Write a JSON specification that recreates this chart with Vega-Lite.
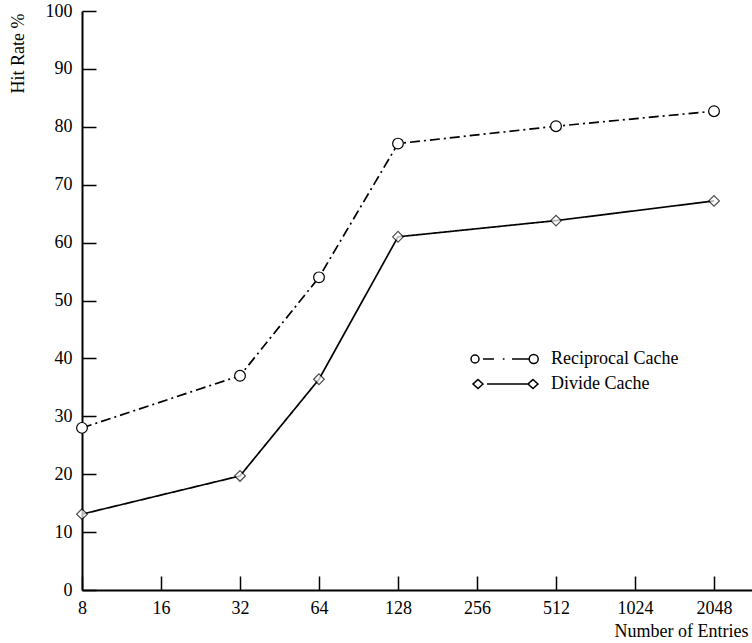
{
  "$schema": "https://vega.github.io/schema/vega-lite/v6.json",
  "width": 670,
  "height": 579,
  "autosize": {"type": "none"},
  "padding": {"left": 82, "top": 11, "right": 0, "bottom": 53},
  "background": "white",
  "config": {
    "font": "Liberation Serif",
    "view": {"stroke": null},
    "axis": {
      "grid": false,
      "domainColor": "black",
      "domainWidth": 2,
      "tickColor": "black",
      "tickWidth": 1.5,
      "tickSize": -14,
      "labelColor": "black",
      "labelFontSize": 18,
      "labelFont": "Liberation Serif",
      "titleFont": "Liberation Serif",
      "titleFontSize": 18,
      "titleFontWeight": "normal",
      "titleColor": "black",
      "labelFlush": false,
      "labelOverlap": false,
      "zindex": 1
    },
    "legend": {
      "title": null,
      "padding": 0,
      "symbolSize": 400,
      "symbolOffset": 25,
      "labelOffset": 36,
      "labelFontSize": 18,
      "labelFont": "Liberation Serif",
      "labelColor": "black",
      "rowPadding": 5
    }
  },
  "data": {
    "values": [
      {"series": "Reciprocal Cache", "entries": 8, "hit": 28},
      {"series": "Reciprocal Cache", "entries": 32, "hit": 37},
      {"series": "Reciprocal Cache", "entries": 64, "hit": 54},
      {"series": "Reciprocal Cache", "entries": 128, "hit": 77.1},
      {"series": "Reciprocal Cache", "entries": 512, "hit": 80.1},
      {"series": "Reciprocal Cache", "entries": 2048, "hit": 82.7},
      {"series": "Divide Cache", "entries": 8, "hit": 13.1},
      {"series": "Divide Cache", "entries": 32, "hit": 19.7},
      {"series": "Divide Cache", "entries": 64, "hit": 36.4},
      {"series": "Divide Cache", "entries": 128, "hit": 61},
      {"series": "Divide Cache", "entries": 512, "hit": 63.8},
      {"series": "Divide Cache", "entries": 2048, "hit": 67.2}
    ]
  },
  "encoding": {
    "x": {
      "field": "entries",
      "type": "quantitative",
      "scale": {"type": "log", "base": 2, "domain": [8, 2858], "nice": false},
      "axis": {
        "values": [8, 16, 32, 64, 128, 256, 512, 1024, 2048],
        "format": "d",
        "labelPadding": 23,
        "title": "Number of Entries",
        "titleX": 666,
        "titleY": 46,
        "titleAlign": "right",
        "titleAnchor": null,
        "titleBaseline": "alphabetic"
      }
    },
    "y": {
      "field": "hit",
      "type": "quantitative",
      "scale": {"domain": [0, 100], "nice": false, "zero": true},
      "axis": {
        "values": [0, 10, 20, 30, 40, 50, 60, 70, 80, 90, 100],
        "labelPadding": 24,
        "title": "Hit Rate %",
        "titleX": -64,
        "titleY": 2,
        "titleAngle": -90,
        "titleAlign": "right",
        "titleBaseline": "middle",
        "titleAnchor": null
      }
    }
  },
  "layer": [
    {
      "mark": {"type": "line", "color": "black", "strokeWidth": 1.7, "clip": false},
      "encoding": {
        "strokeDash": {
          "field": "series",
          "type": "nominal",
          "scale": {"domain": ["Reciprocal Cache", "Divide Cache"], "range": [[10, 4, 2, 4], [1, 0]]},
          "legend": {
            "orient": "none",
            "legendX": 386,
            "legendY": 362,
            "values": ["Divide Cache"],
            "symbolType": "M -3.1 0 L -2.6 -0.45 L -2.1 0 L -2.6 0.45 Z M -1.7 0 L 2.35 0 M 2.4 0 L 2.9 -0.45 L 3.4 0 L 2.9 0.45 Z"
          }
        }
      }
    },
    {
      "transform": [{"filter": "datum.series === 'Reciprocal Cache'"}],
      "mark": {"type": "point", "shape": "circle", "filled": true, "fill": "white", "stroke": "black", "strokeWidth": 1.2, "size": 115, "clip": false},
      "encoding": {
        "opacity": {
          "field": "series",
          "type": "ordinal",
          "scale": {"domain": ["Reciprocal Cache"], "range": [1, 1]},
          "legend": {
            "orient": "none",
            "legendX": 386,
            "legendY": 337,
            "symbolType": "M -2.5 0 A 0.4 0.4 0 1 1 -3.3 0 A 0.4 0.4 0 1 1 -2.5 0 Z M -2.1 0 L -1.0 0 M -0.12 0 L 0.05 0 M 0.8 0 L 2.45 0 M 3.42 0 A 0.45 0.45 0 1 1 2.52 0 A 0.45 0.45 0 1 1 3.42 0 Z"
          }
        }
      }
    },
    {
      "transform": [{"filter": "datum.series === 'Divide Cache'"}],
      "mark": {"type": "point", "shape": "diamond", "filled": true, "fill": "white", "stroke": "black", "strokeWidth": 1.2, "size": 115, "clip": false}
    }
  ]
}
